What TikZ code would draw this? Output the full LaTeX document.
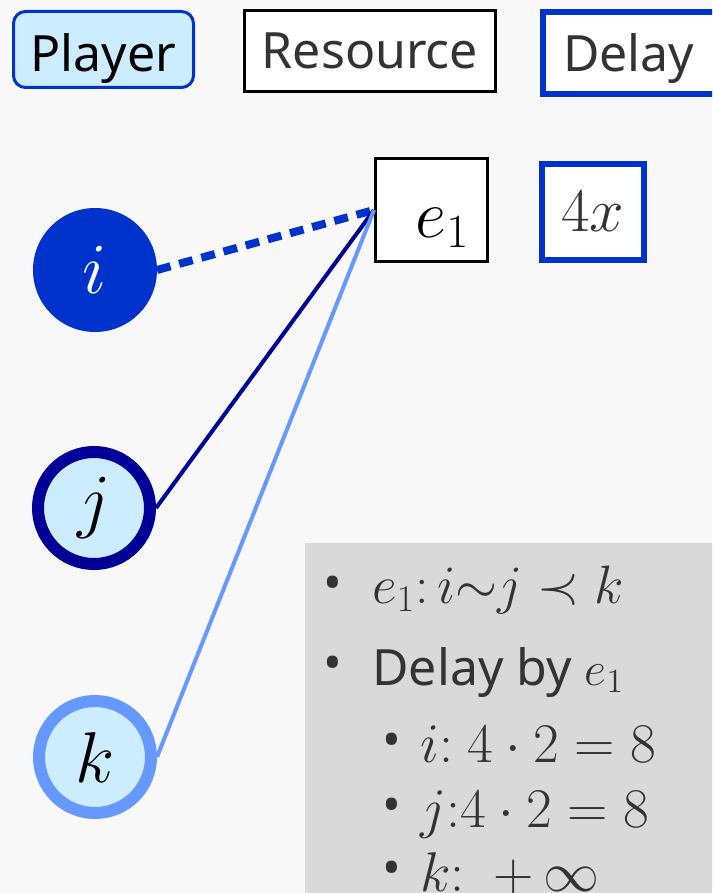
\RequirePackage{fix-cm}
\documentclass[tikz,border=0pt]{standalone}
\usepackage{amsmath,amssymb}
\usepackage{fontspec}
\setmainfont{Noto Sans}
\definecolor{bgcol}{HTML}{F8F8F8}
\definecolor{plfill}{HTML}{CCECFF}
\definecolor{plblue}{HTML}{0033CC}
\definecolor{navy}{HTML}{000099}
\definecolor{ltblue}{HTML}{6699FF}
\definecolor{panelgray}{HTML}{D9D9D9}
\definecolor{txtgray}{HTML}{333333}

\begin{document}
\begin{tikzpicture}[x=0.5pt,y=-0.5pt,
  box/.style={draw,inner sep=0pt},
  player/.style={circle,inner sep=0pt,minimum size=56pt,line width=6pt,
    fill=plfill,font=\fontsize{36}{40}\selectfont},
  link/.style={line width=2pt},
  bulletdot/.style={inner sep=0pt,text=txtgray,font=\fontsize{25}{30}\selectfont},
  itemline/.style={anchor=base west,inner sep=0pt,text=txtgray,
    font=\fontsize{25}{30}\selectfont},
  mathline/.style={itemline,font=\fontsize{28}{32}\selectfont}]
  \clip (0,0) rectangle (712,893);
  \fill[bgcol] (0,0) rectangle (712,893);
  % legend
  \node[box,draw=plblue,fill=plfill,rounded corners=6pt,line width=1.5pt,
    minimum width=90pt,minimum height=38pt,text height=22pt,text depth=0pt,
    font=\fontsize{25}{30}\selectfont] (lplayer) at (103.5,49.5) {Player};
  \node[box,draw=black,fill=white,line width=1.5pt,minimum width=125.5pt,
    minimum height=40.5pt,text=txtgray,font=\fontsize{25}{30}\selectfont]
    (lres) at (370,51) {Resource};
  \node[box,draw=plblue,fill=white,line width=3pt,anchor=west,minimum height=41pt,
    text width=100pt,inner xsep=10pt,text height=19pt,text depth=0pt,text=txtgray,
    font=\fontsize{25}{30}\selectfont] (ldelay) at (540,53) {Delay};
  % resource and its delay
  \node[box,draw=black,fill=white,line width=1.5pt,minimum width=56pt,
    minimum height=51.5pt] (e1) at (431.5,210) {};
  \node[anchor=base west,inner sep=0pt,font=\fontsize{34}{40}\selectfont]
    (e1txt) at (415,237) {$e_1$};
  \node[box,draw=plblue,fill=white,line width=3pt,minimum width=51pt,
    minimum height=47.5pt,text=txtgray,font=\fontsize{31}{36}\selectfont]
    (d1) at (593,212) {$4x$};
  % players
  \node[player,fill=plblue,text=white,minimum size=62pt,outer sep=0pt] (i) at (95,270) {$i$};
  \node[player,draw=navy] (j) at (94,508) {$j$};
  \node[player,draw=ltblue] (k) at (95,757) {$k$};
  \draw[plblue,line width=4pt,dash pattern=on 7pt off 4.5pt] (i.east) -- (e1.west);
  \draw[navy,link] (j.east) -- (e1.west);
  \draw[ltblue,link] (k.east) -- (e1.west);
  % notes
  \fill[panelgray] (305,543) rectangle (720,900);
  \node[bulletdot] (b1) at (333,588) {•};
  \node[mathline,font=\fontsize{27}{32}\selectfont] (t1) at (372,603) {$e_1{:}\,i{\sim}j\prec k$};
  \node[bulletdot] (b2) at (333,668) {•};
  \node[itemline] (t2) at (372,685) {Delay by {\fontsize{24}{28}\selectfont$e_1$}};
  \node[bulletdot] (b3) at (392,745) {•};
  \node[mathline] (t3) at (420,762) {$i{:}\ 4\cdot 2=8$};
  \node[bulletdot] (b4) at (392,810) {•};
  \node[mathline] (t4) at (420,827) {$j{:}4\cdot 2=8$};
  \node[bulletdot] (b5) at (392,873) {•};
  \node[mathline] (t5) at (420,891) {$k{:}\ \ {+}\,\infty$};
\end{tikzpicture}
\end{document}
